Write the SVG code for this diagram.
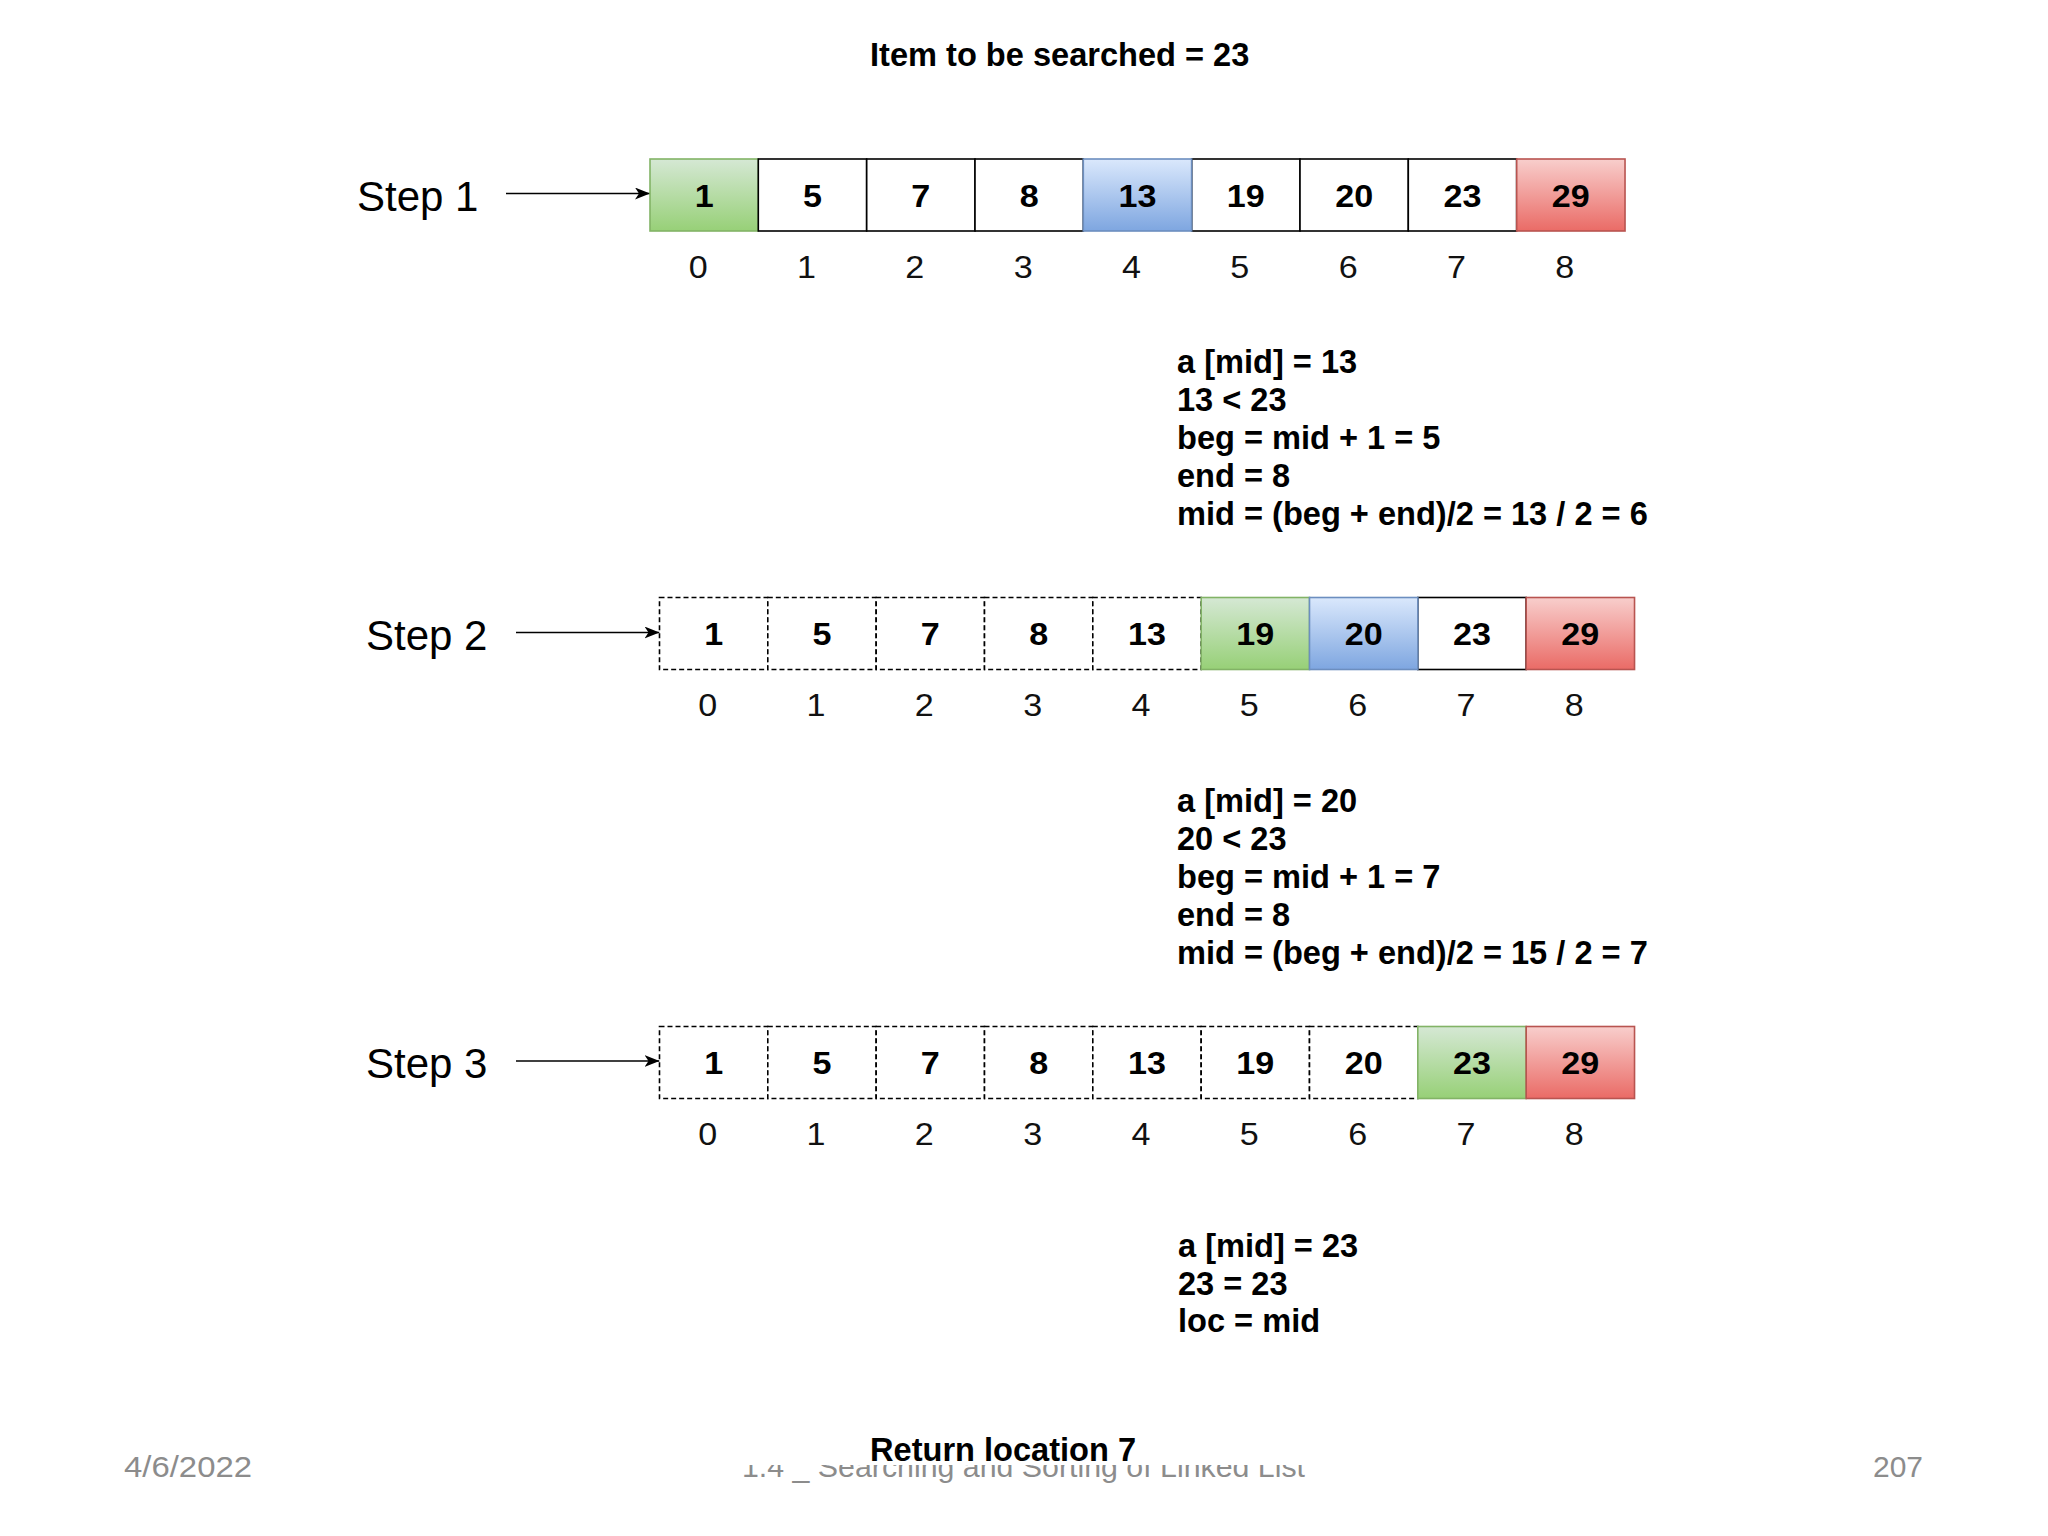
<svg xmlns="http://www.w3.org/2000/svg" width="2048" height="1536" viewBox="0 0 2048 1536">
<defs>
<style>
.bg{fill:#fff}
.cell{fill:#fff;stroke:#000;stroke-width:1.6}
.dash{stroke-dasharray:5 3}
.g{fill:url(#gG);stroke:#82b366}
.b{fill:url(#gB);stroke:#6c8ebf}
.r{fill:url(#gR);stroke:#b85450}
.cv{font-family:"Liberation Sans",Arial,sans-serif;font-weight:bold;font-size:31px;text-anchor:middle;fill:#000}
.ix{font-family:"Liberation Sans",Arial,sans-serif;font-size:31px;text-anchor:middle;fill:#111}
.st{font-family:"Liberation Sans",Arial,sans-serif;font-size:42px;fill:#000}
.tb{font-family:"Liberation Sans",Arial,sans-serif;font-weight:bold;font-size:32.6px;fill:#000}
.hd{font-family:"Liberation Sans",Arial,sans-serif;font-weight:bold;font-size:32.6px;fill:#000}
.ft{font-family:"Liberation Sans",Arial,sans-serif;font-size:30px;fill:#8c8c8c}
.conn{stroke:#000;stroke-width:1.5;fill:none;marker-end:url(#arr)}
</style>
<linearGradient id="gG" x1="0" y1="0" x2="0" y2="1"><stop offset="0" stop-color="#d5e8d4"/><stop offset="1" stop-color="#97d077"/></linearGradient>
<linearGradient id="gB" x1="0" y1="0" x2="0" y2="1"><stop offset="0" stop-color="#dae8fc"/><stop offset="1" stop-color="#7ea6e0"/></linearGradient>
<linearGradient id="gR" x1="0" y1="0" x2="0" y2="1"><stop offset="0" stop-color="#f8cecc"/><stop offset="1" stop-color="#ea6b66"/></linearGradient>
<marker id="arr" markerUnits="userSpaceOnUse" markerWidth="16" markerHeight="12" refX="15" refY="6" orient="auto">
<path d="M0,0 L15,6 L0,12 L4,6 Z" fill="#000"/>
</marker>
<clipPath id="footClip"><rect x="0" y="1465" width="2048" height="71"/></clipPath>
</defs>
<rect class="bg" x="0" y="0" width="2048" height="1536"/>

<!-- footer (partly hidden under diagram) -->
<g id="footer">
<text class="ft" x="124" y="1477" textLength="128" lengthAdjust="spacingAndGlyphs">4/6/2022</text>
<text class="ft" x="742" y="1477" textLength="563" lengthAdjust="spacingAndGlyphs" clip-path="url(#footClip)">1.4 _ Searching and Sorting of Linked List</text>
<text class="ft" x="1873" y="1477" textLength="50" lengthAdjust="spacingAndGlyphs">207</text>
</g>

<g id="title"><text class="hd" x="870" y="66">Item to be searched = 23</text></g>

<!-- Step labels -->
<g id="step1-label"><text class="st" x="357" y="211">Step 1</text></g>
<g id="step2-label"><text class="st" x="366" y="649.5">Step 2</text></g>
<g id="step3-label"><text class="st" x="366" y="1078">Step 3</text></g>

<!-- connectors -->
<g id="connectors">
<line class="conn" x1="506" y1="193.5" x2="650" y2="193.5"/>
<line class="conn" x1="516" y1="632.5" x2="659.5" y2="632.5"/>
<line class="conn" x1="516" y1="1061" x2="659.5" y2="1061"/>
</g>

<!-- Step 1 row -->
<g id="s1c0"><rect class="cell g" x="650" y="159" width="108.33" height="72"/><text class="cv" transform="translate(704.2 206.5) scale(1.1 1)">1</text></g>
<g id="s1c1"><rect class="cell" x="758.3" y="159" width="108.33" height="72"/><text class="cv" transform="translate(812.5 206.5) scale(1.1 1)">5</text></g>
<g id="s1c2"><rect class="cell" x="866.7" y="159" width="108.33" height="72"/><text class="cv" transform="translate(920.8 206.5) scale(1.1 1)">7</text></g>
<g id="s1c3"><rect class="cell" x="975" y="159" width="108.33" height="72"/><text class="cv" transform="translate(1029.2 206.5) scale(1.1 1)">8</text></g>
<g id="s1c5"><rect class="cell" x="1191.7" y="159" width="108.33" height="72"/><text class="cv" transform="translate(1245.8 206.5) scale(1.1 1)">19</text></g>
<g id="s1c6"><rect class="cell" x="1300" y="159" width="108.33" height="72"/><text class="cv" transform="translate(1354.2 206.5) scale(1.1 1)">20</text></g>
<g id="s1c7"><rect class="cell" x="1408.3" y="159" width="108.33" height="72"/><text class="cv" transform="translate(1462.5 206.5) scale(1.1 1)">23</text></g>
<g id="s1c4"><rect class="cell b" x="1083.3" y="159" width="108.33" height="72"/><text class="cv" transform="translate(1137.5 206.5) scale(1.1 1)">13</text></g>
<g id="s1c8"><rect class="cell r" x="1516.7" y="159" width="108.33" height="72"/><text class="cv" transform="translate(1570.8 206.5) scale(1.1 1)">29</text></g>
<g id="s1-index">
<text class="ix" transform="translate(698.2 277.5) scale(1.1 1)">0</text>
<text class="ix" transform="translate(806.5 277.5) scale(1.1 1)">1</text>
<text class="ix" transform="translate(914.8 277.5) scale(1.1 1)">2</text>
<text class="ix" transform="translate(1023.2 277.5) scale(1.1 1)">3</text>
<text class="ix" transform="translate(1131.5 277.5) scale(1.1 1)">4</text>
<text class="ix" transform="translate(1239.8 277.5) scale(1.1 1)">5</text>
<text class="ix" transform="translate(1348.2 277.5) scale(1.1 1)">6</text>
<text class="ix" transform="translate(1456.5 277.5) scale(1.1 1)">7</text>
<text class="ix" transform="translate(1564.8 277.5) scale(1.1 1)">8</text>
</g>
<g id="s1-text" transform="translate(1177 373)">
<text class="tb" x="0" y="0">a [mid] = 13</text>
<text class="tb" x="0" y="38">13 &lt; 23</text>
<text class="tb" x="0" y="76">beg = mid + 1 = 5</text>
<text class="tb" x="0" y="114">end = 8</text>
<text class="tb" x="0" y="152">mid = (beg + end)/2 = 13 / 2 = 6</text>
</g>

<!-- Step 2 row -->
<g id="s2c0"><rect class="cell dash" x="659.5" y="597.5" width="108.33" height="72"/><text class="cv" transform="translate(713.7 645) scale(1.1 1)">1</text></g>
<g id="s2c1"><rect class="cell dash" x="767.8" y="597.5" width="108.33" height="72"/><text class="cv" transform="translate(822 645) scale(1.1 1)">5</text></g>
<g id="s2c2"><rect class="cell dash" x="876.2" y="597.5" width="108.33" height="72"/><text class="cv" transform="translate(930.3 645) scale(1.1 1)">7</text></g>
<g id="s2c3"><rect class="cell dash" x="984.5" y="597.5" width="108.33" height="72"/><text class="cv" transform="translate(1038.7 645) scale(1.1 1)">8</text></g>
<g id="s2c4"><rect class="cell dash" x="1092.8" y="597.5" width="108.33" height="72"/><text class="cv" transform="translate(1147 645) scale(1.1 1)">13</text></g>
<g id="s2c7"><rect class="cell" x="1417.8" y="597.5" width="108.33" height="72"/><text class="cv" transform="translate(1472 645) scale(1.1 1)">23</text></g>
<g id="s2c5"><rect class="cell g" x="1201.2" y="597.5" width="108.33" height="72"/><text class="cv" transform="translate(1255.3 645) scale(1.1 1)">19</text></g>
<g id="s2c6"><rect class="cell b" x="1309.5" y="597.5" width="108.33" height="72"/><text class="cv" transform="translate(1363.7 645) scale(1.1 1)">20</text></g>
<g id="s2c8"><rect class="cell r" x="1526.2" y="597.5" width="108.33" height="72"/><text class="cv" transform="translate(1580.3 645) scale(1.1 1)">29</text></g>
<g id="s2-index">
<text class="ix" transform="translate(707.7 716) scale(1.1 1)">0</text>
<text class="ix" transform="translate(816 716) scale(1.1 1)">1</text>
<text class="ix" transform="translate(924.3 716) scale(1.1 1)">2</text>
<text class="ix" transform="translate(1032.7 716) scale(1.1 1)">3</text>
<text class="ix" transform="translate(1141 716) scale(1.1 1)">4</text>
<text class="ix" transform="translate(1249.3 716) scale(1.1 1)">5</text>
<text class="ix" transform="translate(1357.7 716) scale(1.1 1)">6</text>
<text class="ix" transform="translate(1466 716) scale(1.1 1)">7</text>
<text class="ix" transform="translate(1574.3 716) scale(1.1 1)">8</text>
</g>
<g id="s2-text" transform="translate(1177 812)">
<text class="tb" x="0" y="0">a [mid] = 20</text>
<text class="tb" x="0" y="38">20 &lt; 23</text>
<text class="tb" x="0" y="76">beg = mid + 1 = 7</text>
<text class="tb" x="0" y="114">end = 8</text>
<text class="tb" x="0" y="152">mid = (beg + end)/2 = 15 / 2 = 7</text>
</g>

<!-- Step 3 row -->
<g id="s3c0"><rect class="cell dash" x="659.5" y="1026.5" width="108.33" height="72"/><text class="cv" transform="translate(713.7 1074) scale(1.1 1)">1</text></g>
<g id="s3c1"><rect class="cell dash" x="767.8" y="1026.5" width="108.33" height="72"/><text class="cv" transform="translate(822 1074) scale(1.1 1)">5</text></g>
<g id="s3c2"><rect class="cell dash" x="876.2" y="1026.5" width="108.33" height="72"/><text class="cv" transform="translate(930.3 1074) scale(1.1 1)">7</text></g>
<g id="s3c3"><rect class="cell dash" x="984.5" y="1026.5" width="108.33" height="72"/><text class="cv" transform="translate(1038.7 1074) scale(1.1 1)">8</text></g>
<g id="s3c4"><rect class="cell dash" x="1092.8" y="1026.5" width="108.33" height="72"/><text class="cv" transform="translate(1147 1074) scale(1.1 1)">13</text></g>
<g id="s3c5"><rect class="cell dash" x="1201.2" y="1026.5" width="108.33" height="72"/><text class="cv" transform="translate(1255.3 1074) scale(1.1 1)">19</text></g>
<g id="s3c6"><rect class="cell dash" x="1309.5" y="1026.5" width="108.33" height="72"/><text class="cv" transform="translate(1363.7 1074) scale(1.1 1)">20</text></g>
<g id="s3c7"><rect class="cell g" x="1417.8" y="1026.5" width="108.33" height="72"/><text class="cv" transform="translate(1472 1074) scale(1.1 1)">23</text></g>
<g id="s3c8"><rect class="cell r" x="1526.2" y="1026.5" width="108.33" height="72"/><text class="cv" transform="translate(1580.3 1074) scale(1.1 1)">29</text></g>
<g id="s3-index">
<text class="ix" transform="translate(707.7 1145) scale(1.1 1)">0</text>
<text class="ix" transform="translate(816 1145) scale(1.1 1)">1</text>
<text class="ix" transform="translate(924.3 1145) scale(1.1 1)">2</text>
<text class="ix" transform="translate(1032.7 1145) scale(1.1 1)">3</text>
<text class="ix" transform="translate(1141 1145) scale(1.1 1)">4</text>
<text class="ix" transform="translate(1249.3 1145) scale(1.1 1)">5</text>
<text class="ix" transform="translate(1357.7 1145) scale(1.1 1)">6</text>
<text class="ix" transform="translate(1466 1145) scale(1.1 1)">7</text>
<text class="ix" transform="translate(1574.3 1145) scale(1.1 1)">8</text>
</g>
<g id="s3-text" transform="translate(1178 1257)">
<text class="tb" x="0" y="0">a [mid] = 23</text>
<text class="tb" x="0" y="37.5">23 = 23</text>
<text class="tb" x="0" y="75">loc = mid</text>
</g>

<g id="result"><text class="hd" x="870" y="1461">Return location 7</text></g>
</svg>
